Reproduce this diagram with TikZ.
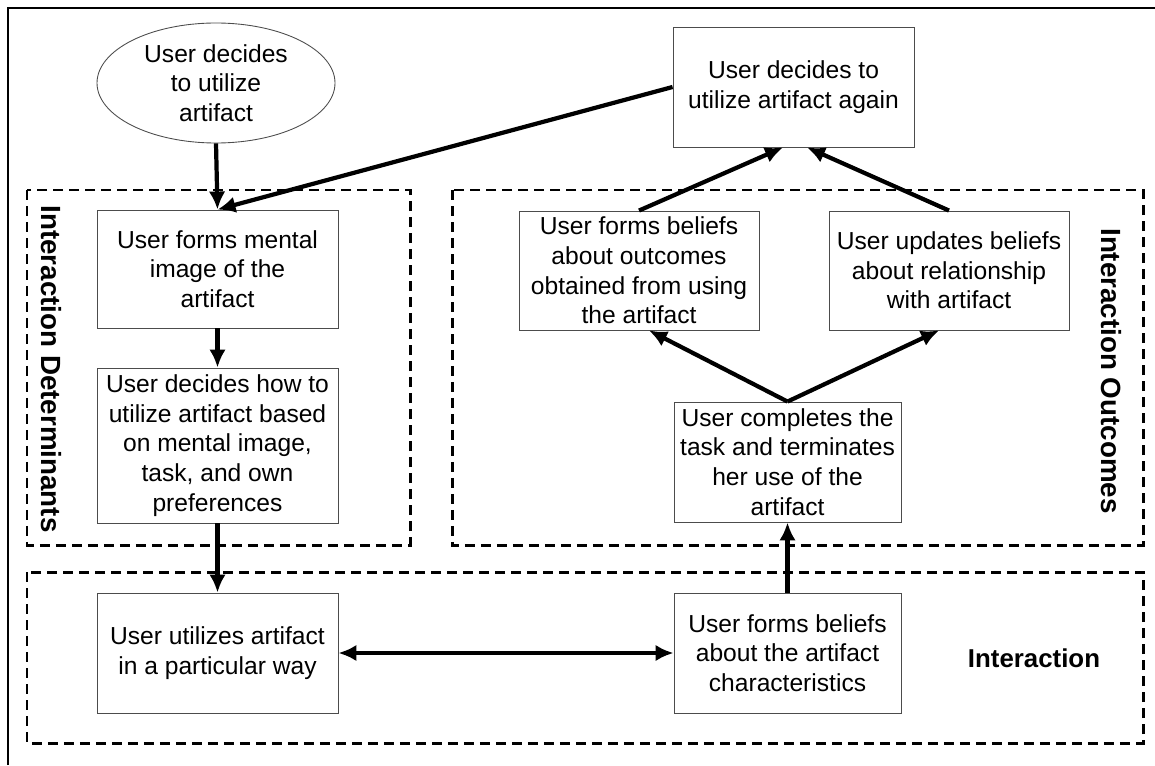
\documentclass[tikz,border=0pt]{standalone}
\usepackage{fontspec}
\setmainfont{Liberation Sans}
\usepackage{tikz}
\usetikzlibrary{arrows.meta}
\usetikzlibrary{shapes.geometric}

\begin{document}
\begin{tikzpicture}[
    stepbox/.style={draw=black!70, line width=0.5pt, align=center, inner sep=0pt,
        font=\fontsize{14}{16.9}\selectfont},
    flow/.style={line width=2.4pt, -{Latex[length=3.6mm,width=3.3mm]}},
    region/.style={line width=1.7pt, dash pattern=on 0.2cm off 0.12cm},
    regionlabel/.style={font=\fontsize{15.8}{18}\selectfont\bfseries}
    ]
\useasboundingbox (0,0) rectangle (23.1,-15.3);
% frame
\draw[line width=1pt] (0.16,-15.3) -- (0.16,-0.16) -- (23.1,-0.16);

% dashed regions
\draw[region] (0.54,-3.8) rectangle (8.2,-10.9);
\draw[region] (9.04,-3.8) rectangle (22.86,-10.9);
\draw[region] (0.54,-11.44) rectangle (22.86,-14.86);

\node[regionlabel, rotate=-90] (determ) at (1.02,-7.38) {Interaction Determinants};
\node[regionlabel, rotate=-90] (outc) at (22.22,-7.42) {Interaction Outcomes};
\node[regionlabel, font=\fontsize{14.7}{17}\selectfont\bfseries] (inter) at (20.68,-13.16) {Interaction};

% boxes
\node[stepbox, ellipse, minimum width=4.76cm, minimum height=2.4cm] (start) at (4.32,-1.66)
    {User decides\\to utilize\\artifact};
\node[stepbox, minimum width=4.82cm, minimum height=2.4cm] (again) at (15.87,-1.74)
    {User decides to\\utilize artifact again};
\node[stepbox, minimum width=4.82cm, minimum height=2.36cm] (mental) at (4.35,-5.38)
    {User forms mental\\image of the\\artifact};
\node[stepbox, minimum width=4.82cm, minimum height=3.1cm] (howto) at (4.35,-8.91)
    {User decides how to\\utilize artifact based\\on mental image,\\task, and own\\preferences};
\node[stepbox, minimum width=4.82cm, minimum height=2.4cm] (use) at (4.35,-13.06)
    {User utilizes artifact\\in a particular way};
\node[stepbox, minimum width=4.54cm, minimum height=2.4cm] (charact) at (15.75,-13.06)
    {User forms beliefs\\about the artifact\\characteristics};
\node[stepbox, minimum width=4.54cm, minimum height=2.4cm] (done) at (15.75,-9.24)
    {User completes the\\task and terminates\\her use of the\\artifact};
\node[stepbox, minimum width=4.8cm, minimum height=2.38cm] (results) at (12.78,-5.41)
    {User forms beliefs\\about outcomes\\obtained from using\\the artifact};
\node[stepbox, minimum width=4.8cm, minimum height=2.38cm] (relation) at (18.98,-5.41)
    {User updates beliefs\\about relationship\\with artifact};

% arrows
\draw[flow] (start.south) -- (mental.north);
\draw[flow] (again.west) -- (mental.north);
\draw[flow] (mental.south) -- (howto.north);
\draw[flow] (howto.south) -- (use.north);
\draw[flow, {Latex[length=3.6mm,width=3.3mm]}-{Latex[length=3.6mm,width=3.3mm]}] (use.east) -- (charact.west);
\draw[flow] (charact.north) -- (done.south);
\draw[flow] (done.north) -- ([xshift=0.2cm]results.south);
\draw[flow] (done.north) -- ([xshift=-0.2cm]relation.south);
\draw[flow] (results.north) -- ([xshift=-0.21cm]again.south);
\draw[flow] (relation.north) -- ([xshift=0.27cm]again.south);

\end{tikzpicture}
\end{document}
